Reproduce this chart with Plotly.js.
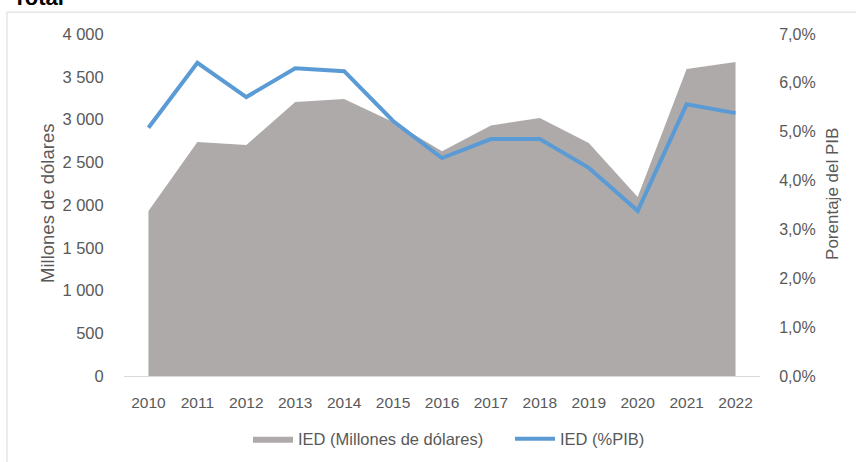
<!DOCTYPE html>
<html>
<head>
<meta charset="utf-8">
<script src="https://cdn.plot.ly/plotly-3.0.1.min.js"></script>
<style>
  body { margin: 0; background: #ffffff; }
  #chart { width: 856px; height: 462px; }
</style>
</head>
<body>
<div id="chart"></div>
<script>
// Datos
var years = ['2010', '2011', '2012', '2013', '2014', '2015', '2016',
             '2017', '2018', '2019', '2020', '2021', '2022'];
var iedMillones = [1930, 2737, 2702, 3205, 3240, 2970, 2630,
                   2930, 3018, 2725, 2094, 3590, 3673];
var iedPib = [0.0508, 0.0641, 0.0571, 0.0630, 0.0624, 0.0522, 0.0446,
              0.0485, 0.0485, 0.0426, 0.0338, 0.0556, 0.0538];

var textColor = '#595959';
var font = 'Liberation Sans, Arial, sans-serif';

var areaTrace = {
  type: 'scatter',
  mode: 'lines',
  name: 'IED (Millones de dólares)',
  x: years,
  y: iedMillones,
  fill: 'tozeroy',
  fillcolor: '#AEAAAA',
  line: { color: '#AEAAAA', width: 0 },
  yaxis: 'y'
};

var lineTrace = {
  type: 'scatter',
  mode: 'lines',
  name: 'IED (%PIB)',
  x: years,
  y: iedPib,
  line: { color: '#5B9BD5', width: 4 },
  yaxis: 'y2'
};

var layout = {
  width: 856,
  height: 462,
  margin: { l: 124, r: 96, t: 34, b: 86 },
  separators: ', ',
  paper_bgcolor: '#ffffff',
  plot_bgcolor: '#ffffff',
  font: { family: font, size: 15, color: textColor },
  xaxis: {
    type: 'category',
    range: [-0.5, 12.5],
    showgrid: false,
    zeroline: false,
    showline: true,
    linecolor: '#D9D9D9',
    linewidth: 1,
    ticks: 'outside',
    ticklen: 12,
    tickcolor: 'rgba(0,0,0,0)',
    tickfont: { size: 15.5, color: textColor }
  },
  yaxis: {
    range: [0, 4000],
    dtick: 500,
    tickformat: ',.0f',
    showgrid: false,
    zeroline: false,
    ticks: 'outside',
    ticklen: 16,
    tickcolor: 'rgba(0,0,0,0)',
    tickfont: { size: 16.5, color: textColor }
  },
  yaxis2: {
    overlaying: 'y',
    side: 'right',
    range: [0, 0.07],
    dtick: 0.01,
    tickformat: '.1%',
    showgrid: false,
    zeroline: false,
    ticks: 'outside',
    ticklen: 15,
    tickcolor: 'rgba(0,0,0,0)',
    tickfont: { size: 16, color: textColor }
  },
  legend: {
    orientation: 'h',
    xref: 'container', yref: 'container',
    x: 0.2897, xanchor: 'left',
    y: 0.0498, yanchor: 'middle',
    font: { size: 16.5, color: textColor },
    itemwidth: 40,
    entrywidth: 207,
    entrywidthmode: 'pixels'
  },
  annotations: [
    {
      text: '<b>Total</b>',
      xref: 'paper', yref: 'paper',
      x: -0.177, xanchor: 'left',
      y: 1.064, yanchor: 'bottom',
      showarrow: false,
      font: { family: font, size: 22, color: '#000000' }
    },
    {
      text: 'Millones de dólares',
      xref: 'paper', yref: 'paper',
      x: -0.1195, xanchor: 'center',
      y: 0.506, yanchor: 'middle',
      textangle: -90,
      showarrow: false,
      font: { family: font, size: 18.5, color: textColor }
    },
    {
      text: 'Porentaje del PIB',
      xref: 'paper', yref: 'paper',
      x: 1.113, xanchor: 'center',
      y: 0.532, yanchor: 'middle',
      textangle: -90,
      showarrow: false,
      font: { family: font, size: 17, color: textColor }
    }
  ],
  shapes: [{
    type: 'rect',
    xref: 'paper', yref: 'paper',
    x0: -0.184, x1: 1.2, y0: -0.4, y1: 1.064,
    line: { color: '#D9D9D9', width: 1 },
    fillcolor: 'rgba(0,0,0,0)',
    layer: 'below'
  }],
  showlegend: true
};

Plotly.newPlot('chart', [areaTrace, lineTrace], layout, { displayModeBar: false });
</script>
</body>
</html>
